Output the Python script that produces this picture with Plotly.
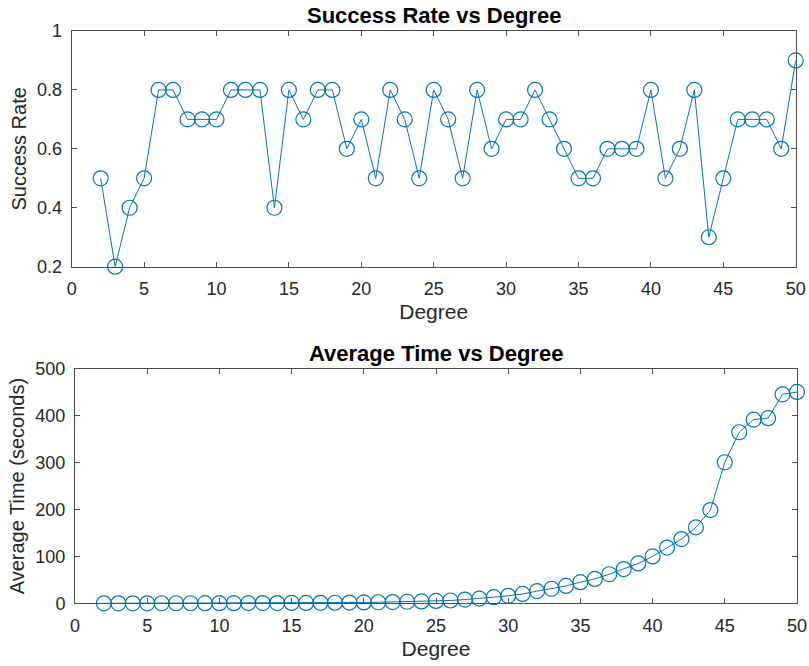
import plotly.graph_objects as go

degrees = list(range(2, 51))
success_rate = [0.5, 0.2, 0.4, 0.5, 0.8, 0.8, 0.7, 0.7, 0.7, 0.8, 0.8, 0.8, 0.4, 0.8, 0.7,
                0.8, 0.8, 0.6, 0.7, 0.5, 0.8, 0.7, 0.5, 0.8, 0.7, 0.5, 0.8, 0.6, 0.7, 0.7,
                0.8, 0.7, 0.6, 0.5, 0.5, 0.6, 0.6, 0.6, 0.8, 0.5, 0.6, 0.8, 0.3, 0.5, 0.7,
                0.7, 0.7, 0.6, 0.9]
avg_time = [0.01, 0.02, 0.03, 0.05, 0.07, 0.1, 0.13, 0.17, 0.22, 0.28, 0.35, 0.45, 0.55, 0.7,
            0.85, 1.0, 1.2, 1.5, 1.8, 2.2, 2.7, 3.3, 4.0, 5.0, 6.0, 8.0, 10, 13, 16, 20,
            26, 31, 37, 45, 52, 62, 73, 85, 100, 119, 137, 162, 199, 301, 365, 392, 395,
            446, 451]
x_ticks = [0, 5, 10, 15, 20, 25, 30, 35, 40, 45, 50]
sr_ticks = [0.2, 0.4, 0.6, 0.8, 1]
sr_ticktext = ["0.2", "0.4", "0.6", "0.8", "1"]
time_ticks = [0, 100, 200, 300, 400, 500]

blue = "#0072BD"
axc = "#262626"
linec = "#4d4d4d"
font = "Liberation Sans, Arial, sans-serif"
W, H = 809, 666

fig = go.Figure()
mk = dict(symbol="circle-open", size=15, color=blue, line=dict(width=1.2))
fig.add_trace(go.Scatter(x=degrees, y=success_rate, mode="lines+markers",
                         line=dict(color=blue, width=1), marker=mk, xaxis="x", yaxis="y",
                         cliponaxis=False))
fig.add_trace(go.Scatter(x=degrees, y=avg_time, mode="lines+markers",
                         line=dict(color=blue, width=1), marker=mk, xaxis="x2", yaxis="y2",
                         cliponaxis=False))

common = dict(showline=True, linecolor=linec, linewidth=1, mirror="ticks",
              ticks="inside", ticklen=5, tickcolor=linec, showgrid=False, zeroline=False,
              automargin=False,
              tickfont=dict(size=18, color=axc, family=font))
xt = dict(size=21, color=axc, family=font)
yt = dict(size=20, color=axc, family=font)

# pixel boxes of the two plot areas
top = dict(x0=71.7, x1=795.7, y0=31, y1=266.7)
bot = dict(x0=75, x1=797, y0=369, y1=603.3)

def xd(b):
    return [b["x0"] / W, b["x1"] / W]

def yd(b):
    return [(H - b["y1"]) / H, (H - b["y0"]) / H]

fig.update_layout(
    width=W, height=H,
    margin=dict(l=0, r=0, t=0, b=0),
    plot_bgcolor="white", paper_bgcolor="white",
    showlegend=False,
    font=dict(family=font, color=axc),
    xaxis=dict(domain=xd(top), anchor="y", range=[0, 50], tickvals=x_ticks,
               ticklabelstandoff=6,
               title=dict(text="Degree", standoff=6, font=xt), **common),
    yaxis=dict(domain=yd(top), anchor="x", range=[0.2, 1], tickvals=sr_ticks,
               ticktext=sr_ticktext, ticklabelstandoff=5,
               title=dict(text="Success Rate", standoff=5, font=yt), **common),
    xaxis2=dict(domain=xd(bot), anchor="y2", range=[0, 50], tickvals=x_ticks,
                ticklabelstandoff=6,
                title=dict(text="Degree", standoff=6, font=xt), **common),
    yaxis2=dict(domain=yd(bot), anchor="x2", range=[0, 500], tickvals=time_ticks,
                ticklabelstandoff=5,
                title=dict(text="Average Time (seconds)", standoff=5, font=yt), **common),
)

fig.add_annotation(text="<b>Success Rate vs Degree</b>", xref="paper", yref="paper",
                   x=sum(xd(top)) / 2, y=yd(top)[1], yanchor="bottom", yshift=1,
                   showarrow=False, font=dict(size=22, color="black", family=font))
fig.add_annotation(text="<b>Average Time vs Degree</b>", xref="paper", yref="paper",
                   x=sum(xd(bot)) / 2, y=yd(bot)[1], yanchor="bottom", yshift=1,
                   showarrow=False, font=dict(size=22, color="black", family=font))

fig.write_html("out.html", config={"displayModeBar": False},
               post_script="document.body.style.margin='0px';document.body.style.overflow='hidden';")
